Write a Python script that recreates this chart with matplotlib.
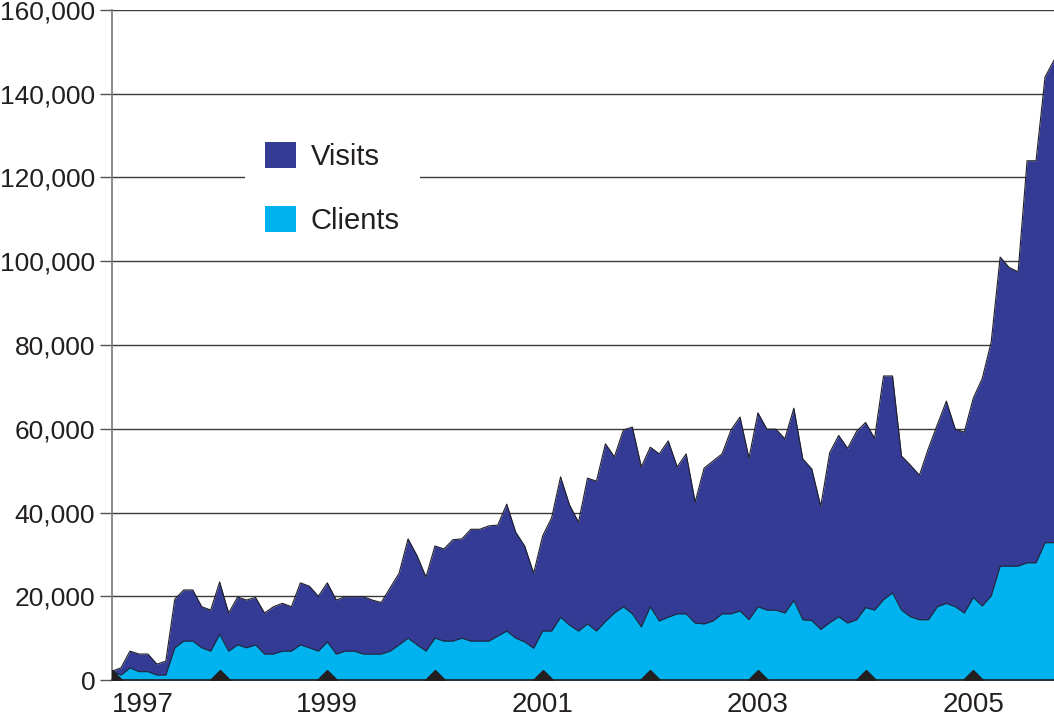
import numpy as np
import matplotlib
matplotlib.use("Agg")
import matplotlib.pyplot as plt
from matplotlib.patches import Patch
from matplotlib.ticker import FuncFormatter

plt.rcParams['font.family'] = ['Liberation Sans', 'DejaVu Sans']

start_year = 1997
# monthly values, in thousands, Jan 1997 .. Oct 2005
visits_k = [2.1, 2.9, 6.9, 6.2, 6.2, 3.8, 4.5, 19.3, 21.5, 21.5, 17.5, 16.7,
            23.4, 16.0, 19.8, 19.1, 19.7, 16.0, 17.5, 18.3, 17.5, 23.2, 22.4, 20.0,
            23.2, 19.1, 19.9, 19.9, 19.9, 19.1, 18.5, 22.0, 25.5, 33.7, 29.7, 24.6,
            32.0, 31.3, 33.5, 33.7, 36.0, 36.0, 36.8, 37.0, 42.0, 35.3, 32.0, 25.5,
            34.4, 38.7, 48.5, 41.8, 37.7, 48.2, 47.5, 56.4, 53.3, 59.7, 60.4, 50.9,
            55.6, 54.0, 57.1, 50.9, 54.0, 42.5, 50.6, 52.3, 54.0, 59.7, 62.8, 53.0,
            63.8, 59.9, 59.9, 57.6, 64.9, 52.8, 50.4, 41.5, 54.3, 58.4, 55.3, 59.4,
            61.5, 57.7, 72.6, 72.6, 53.5, 51.3, 48.9, 55.3, 61.0, 66.6, 59.9, 59.2,
            67.3, 72.0, 80.7, 101.0, 98.5, 97.5, 124.0, 124.0, 144.0, 148.0]
clients_k = [2.0, 1.2, 2.9, 2.0, 2.0, 1.2, 1.2, 7.7, 9.3, 9.3, 7.7, 6.9,
             10.9, 6.9, 8.4, 7.7, 8.4, 6.2, 6.2, 6.9, 6.9, 8.4, 7.7, 6.9,
             9.1, 6.2, 6.9, 6.9, 6.2, 6.2, 6.2, 6.9, 8.4, 10.0, 8.4, 6.9,
             10.0, 9.3, 9.3, 10.0, 9.3, 9.3, 9.3, 10.5, 11.7, 10.0, 9.1, 7.6,
             11.7, 11.7, 15.0, 13.1, 11.7, 13.4, 11.7, 14.0, 16.0, 17.5, 15.8, 12.7,
             17.5, 14.1, 15.0, 15.8, 15.8, 13.6, 13.4, 14.1, 15.8, 15.8, 16.5, 14.4,
             17.5, 16.7, 16.7, 16.0, 19.0, 14.4, 14.2, 12.1, 13.7, 15.1, 13.6, 14.4,
             17.3, 16.7, 19.2, 20.8, 16.7, 15.1, 14.4, 14.4, 17.5, 18.3, 17.5, 16.0,
             19.7, 17.7, 20.1, 27.2, 27.2, 27.2, 28.0, 28.0, 32.8, 32.8]
tick_years = [1997, 1998, 1999, 2000, 2001, 2002, 2003, 2004, 2005]
labeled_years = [1997, 1999, 2001, 2003, 2005]
y_ticks = [0, 20000, 40000, 60000, 80000, 100000, 120000, 140000, 160000]
series_names = ["Visits", "Clients"]
colors = ["#343b95", "#00b2ee"]

visits = np.array(visits_k) * 1000
clients = np.array(clients_k) * 1000
x = start_year + np.arange(len(visits)) / 12.0

fig = plt.figure(figsize=(10.54, 7.19), dpi=100)
ax = fig.add_axes([112/1054, 1 - 680/719, 1 - 112/1054, (680 - 10)/719])

for yv in y_ticks:
    ax.axhline(yv, color="#3a3a3a", lw=1.0, zorder=1)

ax.fill_between(x, 0, visits, color=colors[0], lw=0, zorder=2)
ax.plot(x, visits, color="#1e1e2a", lw=0.8, zorder=3)
ax.fill_between(x, 0, clients, color=colors[1], lw=0, zorder=4)
ax.plot(x, clients, color="#1e2a3a", lw=0.8, zorder=5)

# year tick markers (diamonds clipped at the axis)
ax.plot(tick_years, np.zeros(len(tick_years)), 'D', color="#231f20", ms=10,
        clip_on=True, zorder=6)

ax.set_xlim(x[0], x[-1])
ax.set_ylim(0, 160000)

ax.set_xticks(tick_years)
ax.set_xticklabels([str(y) if y in labeled_years else "" for y in tick_years])
ax.tick_params(axis='x', length=0, pad=9, labelsize=20, labelcolor="#231f20")
ax.get_xticklabels()[0].set_horizontalalignment('left')

ax.set_yticks(y_ticks)
ax.yaxis.set_major_formatter(FuncFormatter(lambda v, p: f"{int(v):,}"))
ax.tick_params(axis='y', length=9, width=1.0, color="#555555", pad=3,
               labelsize=19, labelcolor="#231f20")

for s in ["top", "right"]:
    ax.spines[s].set_visible(False)
ax.spines["left"].set_color("#777777")
ax.spines["left"].set_linewidth(1.2)
ax.spines["bottom"].set_color("#231f20")
ax.spines["bottom"].set_linewidth(1.2)
ax.spines["bottom"].set_zorder(7)

handles = [Patch(facecolor=c, edgecolor='none') for c in colors]
leg = ax.legend(handles, series_names, loc='upper left',
                bbox_to_anchor=(0.1412, 0.833), borderaxespad=0,
                frameon=True, fancybox=False, framealpha=1.0,
                facecolor='white', edgecolor='none', fontsize=21,
                handlelength=1.06, handleheight=1.0, handletextpad=0.5,
                labelspacing=1.2, borderpad=0.7)
for t in leg.get_texts():
    t.set_color("#231f20")
leg.set_zorder(10)

fig.savefig("out.png", dpi=100)
